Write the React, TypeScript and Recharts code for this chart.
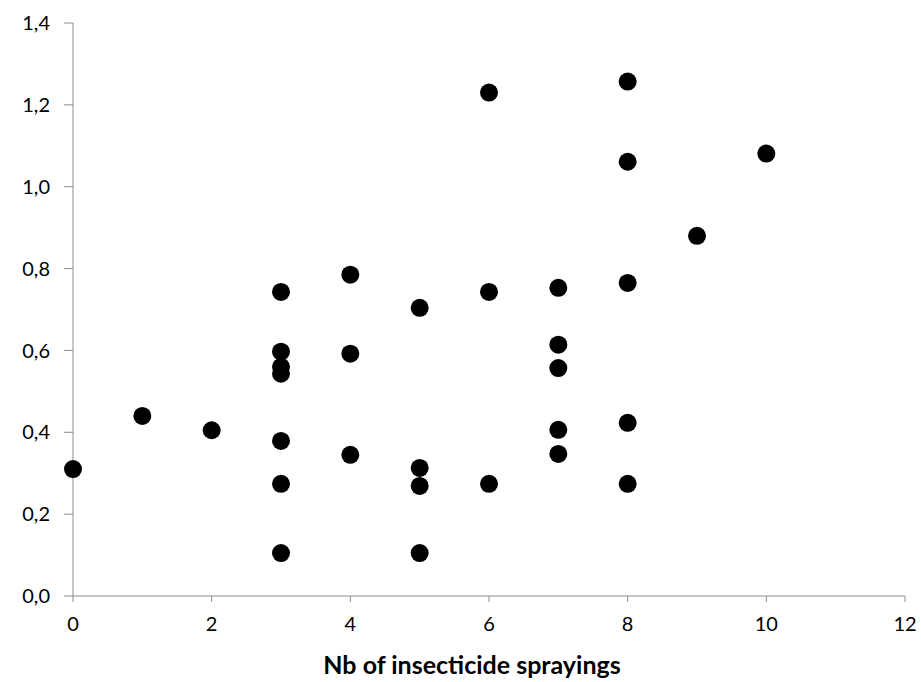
import { ScatterChart, Scatter, XAxis, YAxis } from "recharts";

// --- Data ---
const sprayings = [
  0, 1, 2,
  3, 3, 3, 3, 3, 3, 3,
  4, 4, 4,
  5, 5, 5, 5,
  6, 6, 6,
  7, 7, 7, 7, 7,
  8, 8, 8, 8, 8,
  9, 10,
];
const values = [
  0.31, 0.44, 0.405,
  0.743, 0.597, 0.56, 0.543, 0.379, 0.274, 0.105,
  0.785, 0.592, 0.345,
  0.704, 0.313, 0.269, 0.105,
  1.23, 0.743, 0.274,
  0.753, 0.614, 0.557, 0.406, 0.347,
  1.257, 1.061, 0.765, 0.423, 0.274,
  0.88, 1.081,
];
const xTicks = [0, 2, 4, 6, 8, 10, 12];
const yTicks = [0, 0.2, 0.4, 0.6, 0.8, 1.0, 1.2, 1.4];

const points = sprayings.map((x, i) => ({ x, y: values[i] }));

const axisGrey = "#8c8c8c";
const font = "Lato, 'Open Sans', sans-serif";

// filled dot, same size as in the reference
function Dot(props: any) {
  const { cx, cy } = props;
  if (cx == null || cy == null) return null;
  return <circle cx={cx} cy={cy} r={9} fill="#000" />;
}

export default function App() {
  return (
    <div style={{ width: 921, height: 682 }}>
      <style>{`body{margin:0}`}</style>
      <ScatterChart
        width={921}
        height={682}
        margin={{ top: 23, right: 16, bottom: 0, left: 0 }}
      >
        <XAxis
          type="number"
          dataKey="x"
          domain={[0, 12]}
          ticks={xTicks}
          height={86}
          tickSize={6}
          tickMargin={15}
          axisLine={{ stroke: axisGrey }}
          tickLine={{ stroke: axisGrey }}
          tick={{ fill: "#000", fontSize: 20, fontFamily: font }}
          label={{
            value: "Nb of insecticide sprayings",
            position: "insideBottom",
            offset: 8,
            dx: -17,
            fill: "#000",
            fontSize: 25,
            fontWeight: "bold",
            fontFamily: font,
          }}
        />
        <YAxis
          type="number"
          dataKey="y"
          domain={[0, 1.4]}
          ticks={yTicks}
          width={73}
          tickSize={9}
          tickMargin={14}
          axisLine={{ stroke: axisGrey }}
          tickLine={{ stroke: axisGrey }}
          tickFormatter={(v: number) => v.toFixed(1).replace(".", ",")}
          tick={{ fill: "#000", fontSize: 20, fontFamily: font }}
        />
        <Scatter data={points} fill="#000" shape={Dot} isAnimationActive={false} />
      </ScatterChart>
    </div>
  );
}
